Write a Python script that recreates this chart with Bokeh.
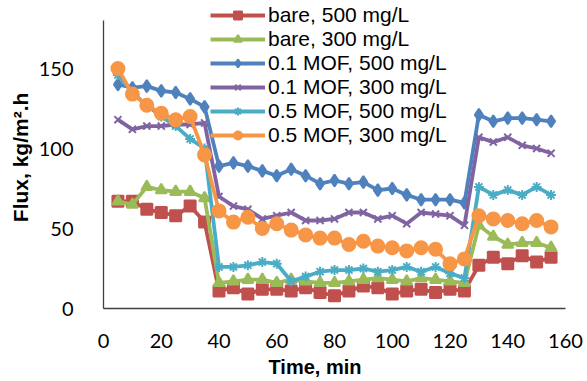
from bokeh.plotting import figure
from bokeh.models import Legend, LegendItem, Range1d, FixedTicker, Title
from bokeh.embed import file_html
from bokeh.resources import INLINE

# ---- data ----
time_min = [5, 10, 15, 20, 25, 30, 35, 40, 45, 50, 55, 60, 65, 70, 75, 80,
            85, 90, 95, 100, 105, 110, 115, 120, 125, 130, 135, 140, 145, 150, 155]

bare_500 = [67, 67, 62, 60, 58, 64, 54, 11, 13, 9, 12, 12, 11, 13, 10, 8,
            11, 14, 13, 9, 11, 12, 10, 12, 11, 27, 32, 28, 33, 29, 32]
bare_300 = [67, 65, 76, 74, 73, 73, 69, 16, 17, 18, 18, 16, 18, 17, 16, 16,
            17, 18, 19, 18, 17, 19, 18, 17, 16, 52, 45, 40, 41, 41, 38]
mof01_500 = [140, 138, 139, 136, 135, 131, 126, 89, 91, 89, 86, 83, 87, 83, 78, 80,
             78, 79, 74, 75, 71, 68, 68, 68, 66, 121, 117, 119, 119, 118, 117]
mof01_300 = [118, 112, 114, 114, 115, 115, 116, 70, 64, 62, 56, 58, 60, 55, 55, 56,
             60, 60, 56, 58, 53, 60, 59, 58, 52, 107, 104, 107, 102, 100, 97]
mof05_500 = [146, 135, 127, 120, 114, 106, 100, 26, 26, 27, 29, 28, 17, 20, 23, 24,
             24, 25, 23, 24, 26, 23, 26, 22, 19, 76, 71, 74, 71, 76, 71]
mof05_300 = [150, 134, 127, 122, 118, 120, 96, 61, 54, 57, 50, 53, 49, 46, 44, 44,
             40, 42, 39, 38, 36, 38, 37, 28, 31, 58, 56, 55, 53, 55, 51]

series_labels = ["bare, 500 mg/L", "bare, 300 mg/L", "0.1 MOF, 500 mg/L",
                 "0.1 MOF, 300 mg/L", "0.5 MOF, 500 mg/L", "0.5 MOF, 300 mg/L"]
x_ticks = [0, 20, 40, 60, 80, 100, 120, 140, 160]
y_ticks = [0, 50, 100, 150]

series_values = [bare_500, bare_300, mof01_500, mof01_300, mof05_500, mof05_300]
colors = ["#C0504D", "#9BBB59", "#4F81BD", "#8064A2", "#4BACC6", "#F79646"]
markers = ["square", "triangle", "diamond", "x", "asterisk", "circle"]
sizes = [11, 11, 12, 10, 10, 13]

p = figure(width=587, height=381, output_backend="svg", toolbar_location=None,
           x_range=Range1d(0, 160), y_range=Range1d(0, 192.5),
           min_border_left=103, min_border_right=22, min_border_top=0,
           min_border_bottom=73)

p.xgrid.visible = False
p.ygrid.visible = False
p.outline_line_color = None
p.background_fill_color = "white"

for ax in (p.xaxis[0], p.yaxis[0]):
    ax.major_tick_line_color = None
    ax.minor_tick_line_color = None
    ax.axis_line_color = "#404040"
    ax.axis_line_width = 1.3
    ax.major_label_text_font = "Lato"
    ax.major_label_text_font_size = "20px"
    ax.major_label_text_color = "black"

p.yaxis.bounds = (0, 180)
p.xaxis.ticker = FixedTicker(ticks=x_ticks)
p.yaxis.ticker = FixedTicker(ticks=y_ticks)
p.xaxis.major_label_standoff = 19
p.yaxis.major_label_standoff = 24

p.yaxis.axis_label = "Flux,  kg/m\u00b2.h"
p.yaxis.axis_label_text_font = "Liberation Sans"
p.yaxis.axis_label_text_font_size = "21px"
p.yaxis.axis_label_text_font_style = "bold"
p.yaxis.axis_label_text_color = "black"
p.yaxis.axis_label_standoff = 4

p.add_layout(Title(text="Time, min", align="left", offset=165,
                   text_font="Liberation Sans", text_font_size="20px",
                   text_font_style="bold", text_color="black", standoff=6), "below")

items = []
for lab, vals, col, mk, sz in zip(series_labels, series_values, colors, markers, sizes):
    lr = p.line(time_min, vals, line_color=col, line_width=3.8)
    sr = p.scatter(time_min, vals, marker=mk, size=sz, fill_color=col,
                   line_color=col, line_width=2)
    items.append(LegendItem(label=lab, renderers=[lr, sr]))

legend = Legend(items=items, location=(107, 161), padding=0, margin=0,
                spacing=0, glyph_width=55, glyph_height=20, label_height=20,
                label_standoff=3, label_text_font="Liberation Sans",
                label_text_font_size="21px", label_text_line_height=0.9,
                label_text_color="black",
                background_fill_alpha=0, border_line_color=None)
p.add_layout(legend, "center")

open("out.html", "w").write(file_html(p, INLINE))
